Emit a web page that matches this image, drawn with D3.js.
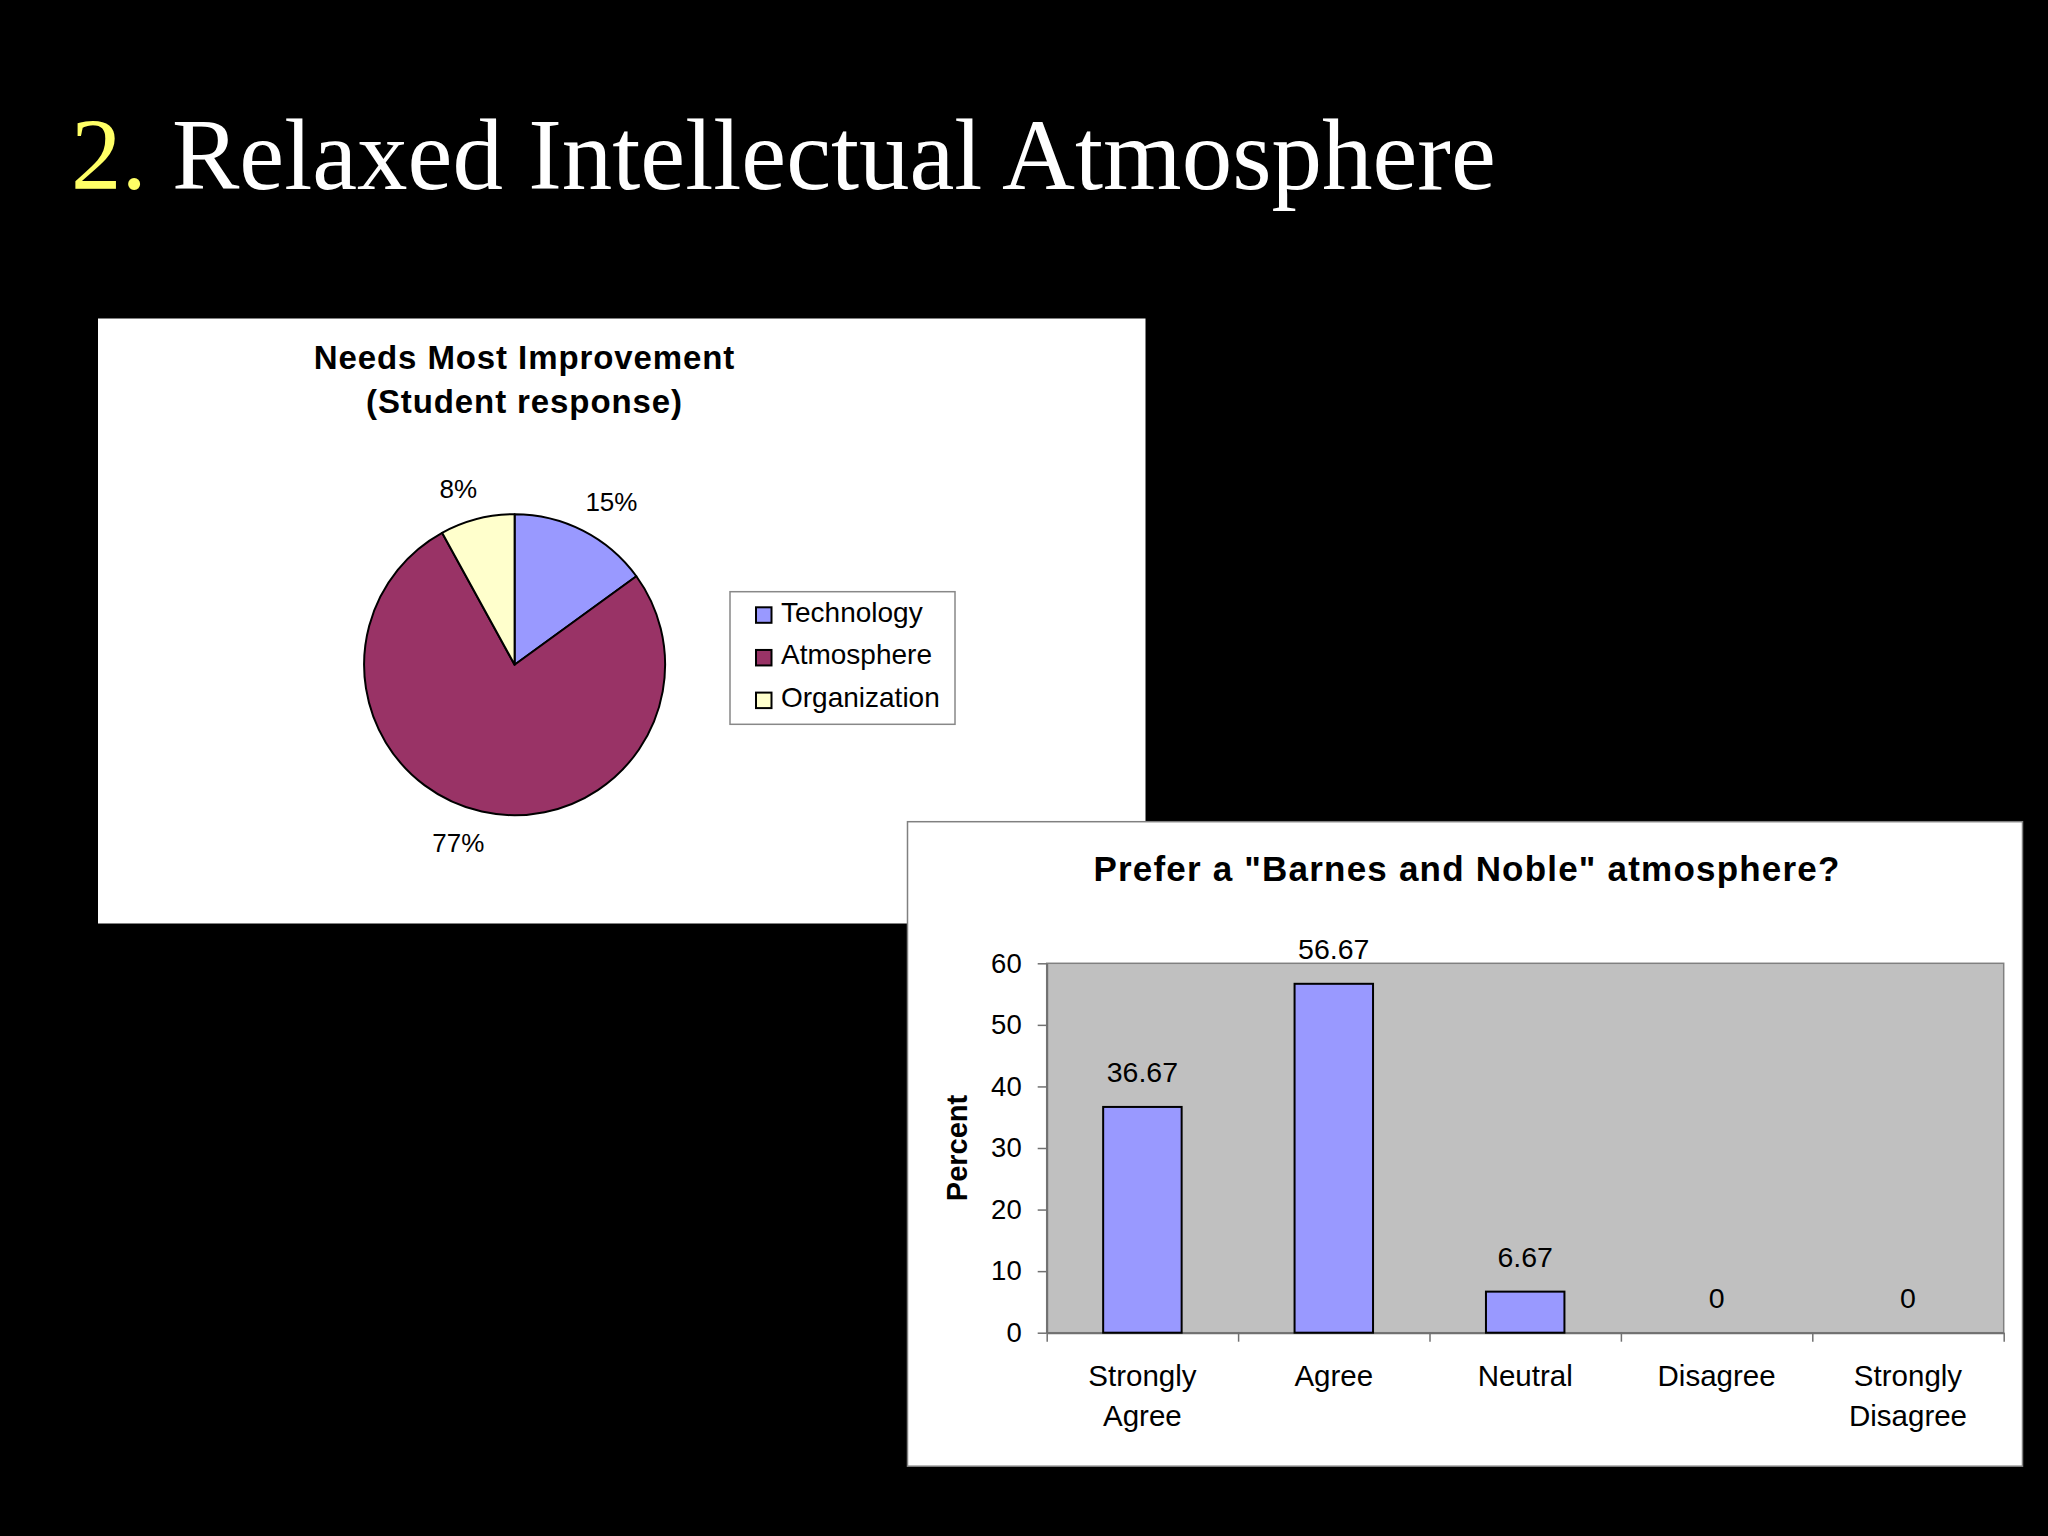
<!DOCTYPE html>
<html>
<head>
<meta charset="utf-8">
<script src="https://cdn.jsdelivr.net/npm/d3@7"></script>
<style>
  html, body { margin: 0; padding: 0; background: #000; }
  svg { display: block; }
</style>
</head>
<body>
<svg id="slide" width="2048" height="1536"></svg>
<script>
// --- data ---
const pieCategories = ["Technology", "Atmosphere", "Organization"];
const pieValues = [15, 77, 8];
const pieColors = ["#9999FF", "#993366", "#FFFFCC"];

const barCategories = ["Strongly Agree", "Agree", "Neutral", "Disagree", "Strongly Disagree"];
const barValues = [36.67, 56.67, 6.67, 0, 0];
const yTicks = [0, 10, 20, 30, 40, 50, 60];

const sans = "'Liberation Sans', Arial, Helvetica, sans-serif";
const serif = "'Liberation Serif', 'Times New Roman', serif";

const svg = d3.select("#slide");
svg.append("rect").attr("width", 2048).attr("height", 1536).attr("fill", "#000");

// slide title
const title = svg.append("text")
  .attr("x", 71).attr("y", 189)
  .attr("font-family", serif).attr("font-size", 101);
title.append("tspan").attr("fill", "#FFFF66").text("2.");
title.append("tspan").attr("fill", "#fff").text(" Relaxed Intellectual Atmosphere");

// ---------- pie panel ----------
const pieBox = { x: 98, y: 318.5, w: 1047.5, h: 605 };
svg.append("rect").attr("x", pieBox.x).attr("y", pieBox.y)
  .attr("width", pieBox.w).attr("height", pieBox.h).attr("fill", "#fff");

const pieTitle = svg.append("text")
  .attr("x", 524.5).attr("y", 369.3)
  .attr("text-anchor", "middle")
  .attr("font-family", sans).attr("font-weight", "bold")
  .attr("font-size", 33).attr("letter-spacing", 0.9).attr("fill", "#000");
pieTitle.append("tspan").attr("x", 524.5).text("Needs Most Improvement");
pieTitle.append("tspan").attr("x", 524.5).attr("dy", 44).text("(Student response)");

const cx = 514.6, cy = 664.7, r = 150.5;
const pie = d3.pie().sort(null).value(d => d)(pieValues);
const arc = d3.arc().innerRadius(0).outerRadius(r);
const pieG = svg.append("g").attr("transform", `translate(${cx},${cy})`);

pieG.selectAll("path.slice").data(pie).enter().append("path")
  .attr("class", "slice")
  .attr("d", arc)
  .attr("fill", (d, i) => pieColors[i])
  .attr("stroke", "#000").attr("stroke-width", 2).attr("stroke-linejoin", "round");

// outside-end labels: box pushed off the anchor point on the slice's mid angle
const labelR = 172, capH = 19;
pieG.selectAll("text.pct").data(pie).enter().append("text")
  .attr("class", "pct")
  .attr("font-family", sans).attr("font-size", 26).attr("fill", "#000")
  .attr("text-anchor", "middle")
  .text(d => d.data + "%")
  .each(function (d) {
    const a = (d.startAngle + d.endAngle) / 2;
    const ux = Math.sin(a), uy = -Math.cos(a);
    const w = this.getComputedTextLength();
    const px = ux * labelR + Math.sign(ux) * w * 0.36;
    const py = uy * labelR + Math.sign(uy) * capH / 2;
    d3.select(this).attr("x", px).attr("y", py + capH / 2);
  });

// legend
const legend = svg.append("g");
legend.append("rect").attr("x", 730).attr("y", 591.7).attr("width", 225).attr("height", 132.6)
  .attr("fill", "#fff").attr("stroke", "#888").attr("stroke-width", 1.5);
const legY = d3.scalePoint().domain(pieCategories).range([621.7, 707]);
pieCategories.forEach((c, i) => {
  legend.append("rect").attr("x", 756).attr("y", legY(c) - 14.4).attr("width", 15.5).attr("height", 15.5)
    .attr("fill", pieColors[i]).attr("stroke", "#000").attr("stroke-width", 2);
  legend.append("text").attr("x", 781).attr("y", legY(c))
    .attr("font-family", sans).attr("font-size", 28).attr("fill", "#000").text(c);
});

// ---------- bar panel ----------
const barBox = { x: 907.5, y: 821.7, w: 1115, h: 644.5 };
svg.append("rect").attr("x", barBox.x).attr("y", barBox.y)
  .attr("width", barBox.w).attr("height", barBox.h)
  .attr("fill", "#fff").attr("stroke", "#808080").attr("stroke-width", 1.5);

svg.append("text")
  .attr("x", barBox.x + barBox.w / 2 + 2).attr("y", 880.7)
  .attr("text-anchor", "middle")
  .attr("font-family", sans).attr("font-weight", "bold")
  .attr("font-size", 35).attr("letter-spacing", 1.2).attr("fill", "#000")
  .text('Prefer a "Barnes and Noble" atmosphere?');

const plot = { x: 1046.7, y: 963.3, w: 957, h: 369.4 };
const g = svg.append("g").attr("transform", `translate(${plot.x},${plot.y})`);

const y = d3.scaleLinear().domain([0, 60]).range([plot.h, 0]);
const x = d3.scaleBand().domain(barCategories).range([0, plot.w]).paddingInner(0.59).paddingOuter(0.295);

g.append("rect").attr("width", plot.w).attr("height", plot.h)
  .attr("fill", "#C0C0C0").attr("stroke", "#808080").attr("stroke-width", 1.5);

// y axis
const yAxis = g.append("g").call(d3.axisLeft(y).tickValues(yTicks).tickSize(9).tickPadding(16).tickSizeOuter(0));
yAxis.select(".domain").attr("stroke", "#707070").attr("stroke-width", 2);
yAxis.selectAll(".tick line").attr("stroke", "#707070").attr("stroke-width", 1.5);
yAxis.selectAll(".tick text").attr("font-family", sans).attr("font-size", 27.5).attr("fill", "#000");

// x axis: ticks sit between categories
const xEdge = d3.scaleLinear().domain([0, barCategories.length]).range([0, plot.w]);
const xAxis = g.append("g").attr("transform", `translate(0,${plot.h})`)
  .call(d3.axisBottom(xEdge).ticks(barCategories.length).tickFormat("").tickSize(9).tickSizeOuter(0));
xAxis.select(".domain").attr("stroke", "#707070").attr("stroke-width", 2);
xAxis.selectAll(".tick line").attr("stroke", "#707070").attr("stroke-width", 1.5);

// category labels
g.selectAll("text.cat").data(barCategories).enter().append("text")
  .attr("class", "cat")
  .attr("text-anchor", "middle")
  .attr("font-family", sans).attr("font-size", 29.5).attr("fill", "#000")
  .each(function (d) {
    const t = d3.select(this);
    const cxk = x(d) + x.bandwidth() / 2;
    d.split(" ").forEach((w, i) => {
      t.append("tspan").attr("x", cxk).attr("y", plot.h + 53 + i * 40).text(w);
    });
  });

// bars
g.selectAll("rect.bar").data(barValues).enter().append("rect")
  .attr("class", "bar")
  .filter(d => d > 0)
  .attr("x", (d, i) => x(barCategories[barValues.indexOf(d)]))
  .attr("y", d => y(d))
  .attr("width", x.bandwidth())
  .attr("height", d => y(0) - y(d))
  .attr("fill", "#9999FF").attr("stroke", "#000").attr("stroke-width", 2);

// data labels
g.selectAll("text.val").data(barValues).enter().append("text")
  .attr("class", "val")
  .attr("x", (d, i) => x(barCategories[i]) + x.bandwidth() / 2)
  .attr("y", d => y(d) - 24.5)
  .attr("text-anchor", "middle")
  .attr("font-family", sans).attr("font-size", 28.5).attr("fill", "#000")
  .text(d => d);

// y axis title
svg.append("text")
  .attr("transform", `translate(966.7,${plot.y + plot.h / 2}) rotate(-90)`)
  .attr("text-anchor", "middle")
  .attr("font-family", sans).attr("font-weight", "bold").attr("font-size", 29).attr("fill", "#000")
  .text("Percent");
</script>
</body>
</html>
